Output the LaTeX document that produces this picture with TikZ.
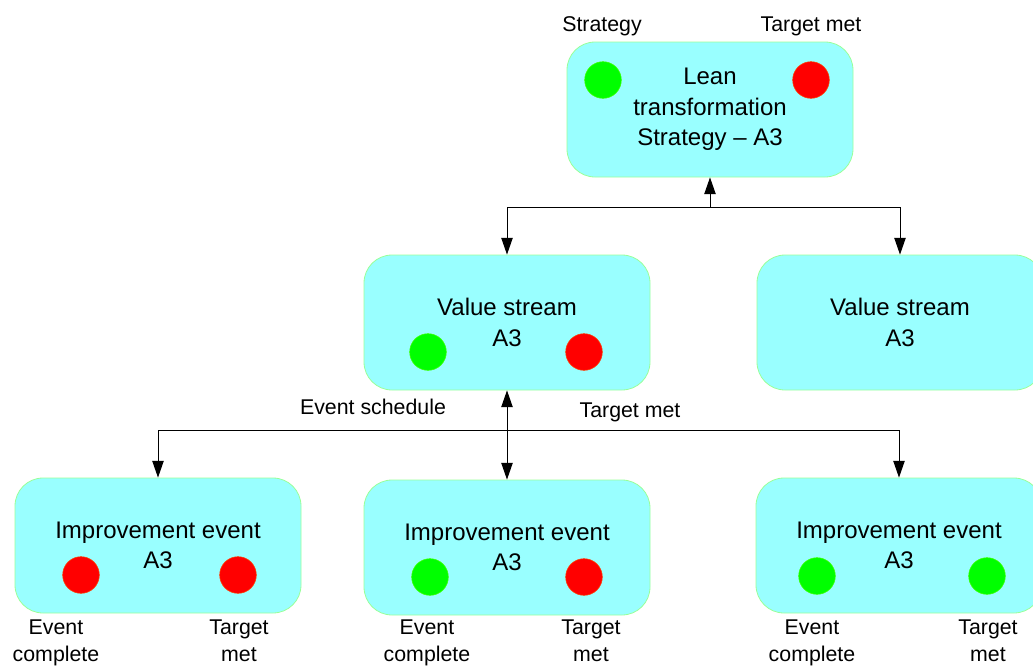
\documentclass[tikz,border=0pt]{standalone}
\usepackage{fontspec}
\setmainfont{Liberation Sans}
\usetikzlibrary{arrows.meta}
\definecolor{boxfill}{HTML}{99FFFF}
\definecolor{boxline}{HTML}{99FF99}
\definecolor{lampgreen}{HTML}{00FF00}
\definecolor{lampred}{HTML}{FF0000}
\begin{document}
\begin{tikzpicture}[x=0.75pt,y=-0.75pt,
  card/.style={rectangle, rounded corners=21pt, fill=boxfill, draw=boxline,
    line width=0.6pt, minimum width=214.5pt, minimum height=101.25pt,
    inner sep=0pt, align=center, font=\fontsize{18}{23}\selectfont},
  lamp/.style={circle, minimum size=27.5pt, inner sep=0pt,
    draw=#1!75!yellow, line width=0.4pt, fill=#1},
  lbl/.style={font=\fontsize{16}{20}\selectfont, inner sep=0pt, align=center},
  link/.style={line width=0.75pt, draw=black},
  arr/.style={link, -{Triangle[length=12.5pt,width=8.5pt]}},
  darr/.style={link, {Triangle[length=12.5pt,width=8.5pt]}-{Triangle[length=12.5pt,width=8.5pt]}},
]
\useasboundingbox (0,0) rectangle (1033,668);

% boxes
\node[card] (top) at (710,109.5) {Lean\\transformation\\Strategy -- A3};
\node[card] (vsL) at (507,322.5) {Value stream\\A3};
\node[card] (vsR) at (900,322.5) {Value stream\\A3};
\node[card] (ieL) at (158,545.5) {Improvement event\\A3};
\node[card] (ieM) at (507,547.5) {Improvement event\\A3};
\node[card] (ieR) at (899,545.5) {Improvement event\\A3};

% status lamps
\node[lamp=lampgreen] (topS) at (603,80) {};
\node[lamp=lampred]   (topT) at (811,80) {};
\node[lamp=lampgreen] (vsLS) at (428,352) {};
\node[lamp=lampred]   (vsLT) at (584,352) {};
\node[lamp=lampred]   (ieLE) at (81,575) {};
\node[lamp=lampred]   (ieLT) at (238,575) {};
\node[lamp=lampgreen] (ieME) at (430,577) {};
\node[lamp=lampred]   (ieMT) at (584,577) {};
\node[lamp=lampgreen] (ieRE) at (817,576) {};
\node[lamp=lampgreen] (ieRT) at (987,576) {};

% labels
\node[lbl, anchor=base] (lStrat) at (602,31) {Strategy};
\node[lbl, anchor=base] (lTop)   at (811,31) {Target met};
\node[lbl, anchor=base] (lSched) at (373,414) {Event schedule};
\node[lbl, anchor=base] (lMid)   at (630,417) {Target met};
\node[lbl, anchor=north] (lLE) at (56,620)  {Event\\complete};
\node[lbl, anchor=north] (lLT) at (239,620) {Target\\met};
\node[lbl, anchor=north] (lME) at (427,620) {Event\\complete};
\node[lbl, anchor=north] (lMT) at (591,620) {Target\\met};
\node[lbl, anchor=north] (lRE) at (812,620) {Event\\complete};
\node[lbl, anchor=north] (lRT) at (988,620) {Target\\met};

% connectors, upper level
\coordinate (j1) at (710,207);
\draw[arr] (j1) -- (top.south);
\draw[link] (vsL.north |- j1) -- (vsR.north |- j1);
\draw[arr] (vsL.north |- j1) -- (vsL.north);
\draw[arr] (vsR.north |- j1) -- (vsR.north);

% connectors, lower level
\coordinate (j2) at (507,430);
\draw[darr] (vsL.south) -- (ieM.north);
\draw[link] (ieL.north |- j2) -- (ieR.north |- j2);
\draw[arr] (ieL.north |- j2) -- (ieL.north);
\draw[arr] (ieR.north |- j2) -- (ieR.north);
\end{tikzpicture}
\end{document}
